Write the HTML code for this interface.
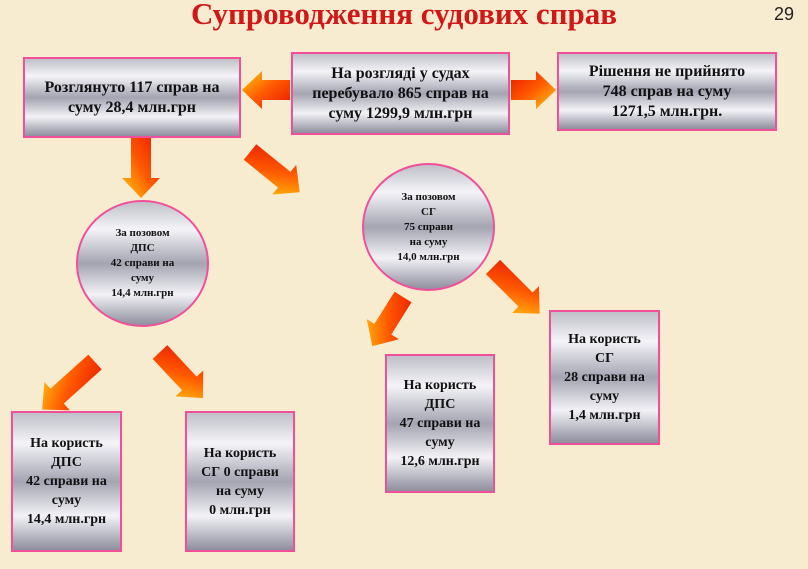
<!DOCTYPE html>
<html><head><meta charset="utf-8"><style>
body{margin:0;width:808px;height:569px;overflow:hidden;background:#f8ecd0;font-family:"Liberation Serif",serif;}
.t{position:absolute;left:0;width:808px;top:-4px;text-align:center;color:#d01818;font-weight:bold;font-size:31px;}
.n{position:absolute;right:14px;top:4px;font-family:"Liberation Sans",sans-serif;font-size:18px;color:#222;}
.b{position:absolute;box-sizing:border-box;border:2px solid #f0509a;display:flex;align-items:center;justify-content:center;text-align:center;font-weight:bold;color:#111;
background:linear-gradient(#bfc0c8 0%,#f4f4f8 22%,#a4a4b2 50%,#f2f2f6 75%,#8e8e9e 100%);}
.c{border-radius:50%;font-size:11px;line-height:15px;}
</style></head><body>
<div class="t">Супроводження судових справ</div>
<div class="n">29</div>
<svg style="position:absolute;left:0;top:0" width="808" height="569">
<defs><linearGradient id="g" x1="0" y1="0" x2="1" y2="1"><stop offset="0" stop-color="#e81800"/><stop offset="0.5" stop-color="#ff5a00"/><stop offset="1" stop-color="#ffcc10"/></linearGradient></defs>
<g fill="url(#g)">
<g transform="translate(290,90) rotate(180)"><polygon points="0,-10 28,-10 28,-19 48,0 28,19 28,10 0,10"/></g>
<g transform="translate(511,90) rotate(0)"><polygon points="0,-10 25,-10 25,-19 45,0 25,19 25,10 0,10"/></g>
<g transform="translate(141,137) rotate(90)"><polygon points="0,-10 41,-10 41,-19 61,0 41,19 41,10 0,10"/></g>
<g transform="translate(250,152) rotate(39)"><polygon points="0,-10 44,-10 44,-19 64,0 44,19 44,10 0,10"/></g>
<g transform="translate(95,362) rotate(138)"><polygon points="0,-10 51,-10 51,-19 71,0 51,19 51,10 0,10"/></g>
<g transform="translate(160,352) rotate(47)"><polygon points="0,-10 43,-10 43,-19 63,0 43,19 43,10 0,10"/></g>
<g transform="translate(403,297) rotate(122)"><polygon points="0,-10 38,-10 38,-19 58,0 38,19 38,10 0,10"/></g>
<g transform="translate(493,267) rotate(45)"><polygon points="0,-10 46,-10 46,-19 66,0 46,19 46,10 0,10"/></g>
</g></svg>
<div class="b" style="left:23px;top:57px;width:218px;height:81px;font-size:16px;line-height:20px">Розглянуто 117 справ на<br>суму 28,4 млн.грн</div>
<div class="b" style="left:291px;top:52px;width:219px;height:83px;font-size:16px;line-height:20px">На розгляді у судах<br>перебувало 865 справ на<br>суму 1299,9 млн.грн</div>
<div class="b" style="left:557px;top:52px;width:220px;height:79px;font-size:16px;line-height:20px">Рішення не прийнято<br>748 справ на суму<br>1271,5 млн.грн.</div>
<div class="b c" style="left:76px;top:200px;width:133px;height:127px">За позовом<br>ДПС<br>42 справи на<br>суму<br>14,4 млн.грн</div>
<div class="b c" style="left:362px;top:163px;width:133px;height:128px">За позовом<br>СГ<br>75 справи<br>на суму<br>14,0 млн.грн</div>
<div class="b" style="left:11px;top:411px;width:111px;height:141px;font-size:14px;line-height:19px">На користь<br>ДПС<br>42 справи на<br>суму<br>14,4 млн.грн</div>
<div class="b" style="left:185px;top:411px;width:110px;height:141px;font-size:14px;line-height:19px">На користь<br>СГ 0 справи<br>на суму<br>0 млн.грн</div>
<div class="b" style="left:385px;top:354px;width:110px;height:139px;font-size:14px;line-height:19px">На користь<br>ДПС<br>47 справи на<br>суму<br>12,6 млн.грн</div>
<div class="b" style="left:549px;top:310px;width:111px;height:135px;font-size:14px;line-height:19px">На користь<br>СГ<br>28 справи на<br>суму<br>1,4 млн.грн</div>
</body></html>
